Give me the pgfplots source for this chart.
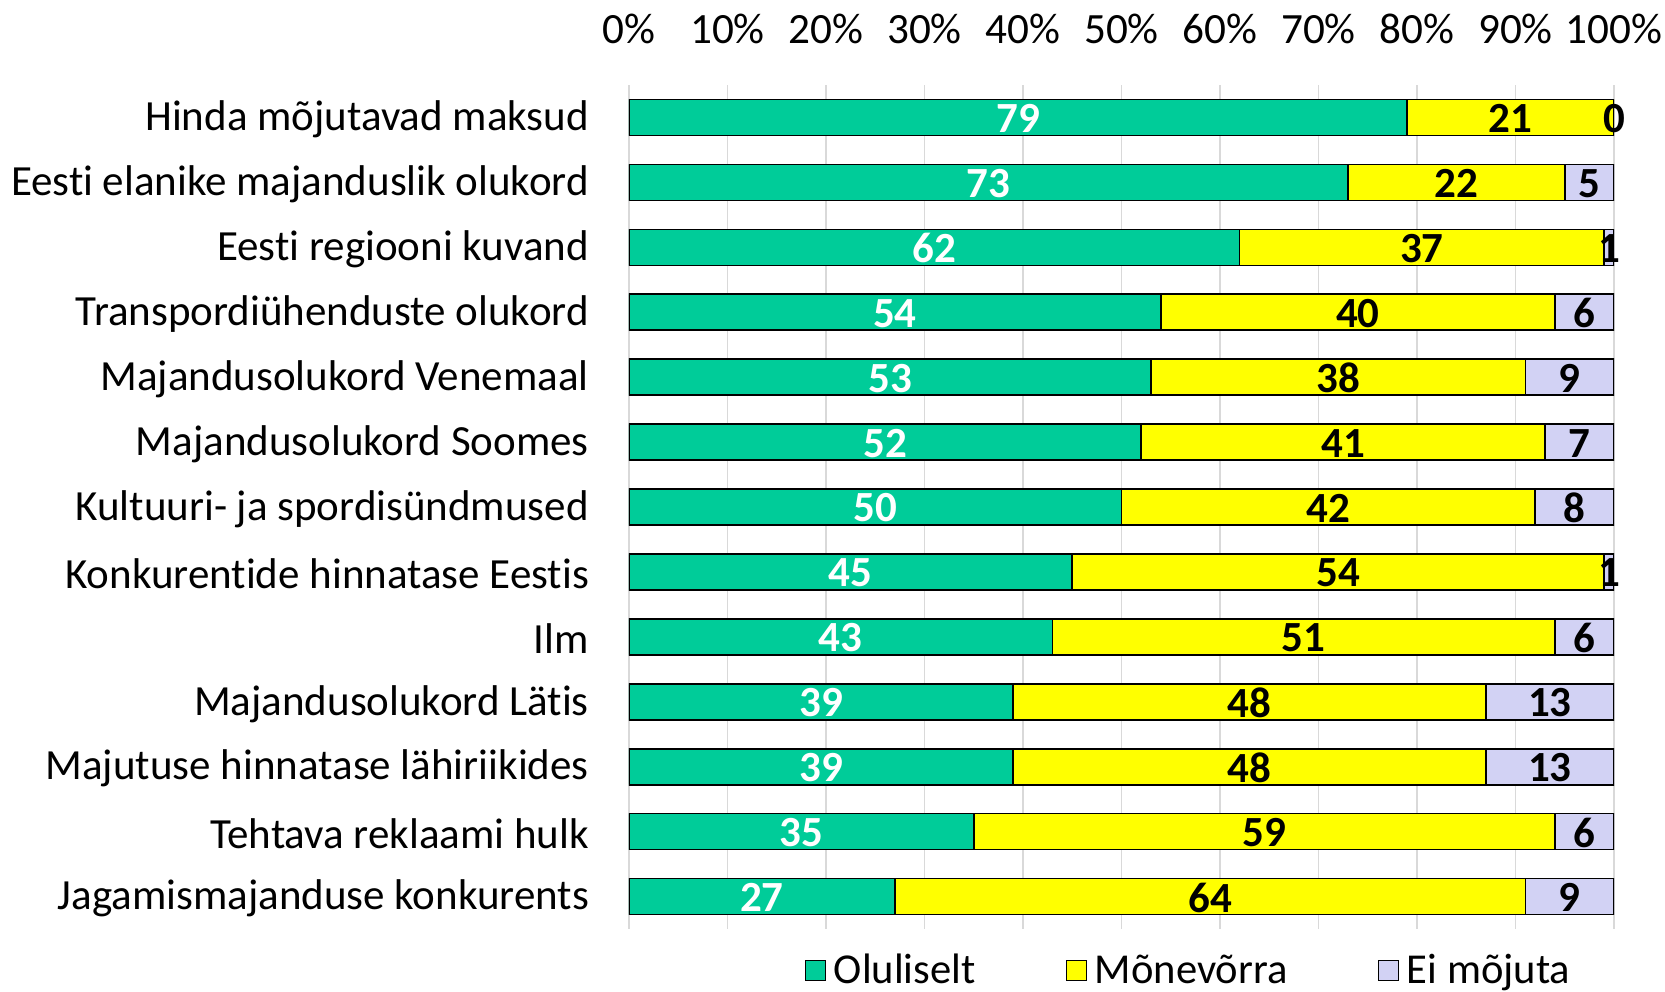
\documentclass[border=0pt]{standalone}
\usepackage{pgfplots}
\pgfplotsset{compat=1.18}
\usepackage{fontspec}
\setmainfont[RawFeature={-liga;-clig;-dlig;-calt}]{Carlito}
\definecolor{cgreen}{RGB}{0,204,153}
\definecolor{cyellow}{RGB}{255,255,0}
\definecolor{clav}{RGB}{210,210,244}
\definecolor{cgrid}{RGB}{217,217,217}
\pgfplotsset{
  common/.style={
    scale only axis, width=492.5pt, height=422pt,
    xmin=0, xmax=100, ymin=-0.5, ymax=12.5, y dir=reverse,
  }
}
\begin{document}
\begin{tikzpicture}
\begin{axis}[common, name=main,
  xbar stacked, bar width=18pt,
  axis line style={draw=none}, major tick length=0pt,
  xmajorgrids, grid style={cgrid, line width=0.8pt},
  xtick={0,10,...,100},
  xticklabels={0\%,10\%,20\%,30\%,40\%,50\%,60\%,70\%,80\%,90\%,100\%},
  xticklabel pos=top,
  x tick label style={font=\fontsize{21.6}{25}\selectfont, yshift=17pt},
  ytick={0,...,12},
  yticklabels={Hinda mõjutavad maksud, Eesti elanike majanduslik olukord, Eesti regiooni kuvand, Transpordiühenduste olukord, Majandusolukord Venemaal, Majandusolukord Soomes, Kultuuri- ja spordisündmused, Konkurentide hinnatase Eestis, Ilm, Majandusolukord Lätis, Majutuse hinnatase lähiriikides, Tehtava reklaami hulk, Jagamismajanduse konkurents},
  y tick label style={font=\fontsize{21.5}{25}\selectfont, xshift=-16.5pt, yshift=-1pt},
  legend image code/.code={\draw[#1,draw=black,line width=0.6pt] (0pt,-5pt) rectangle (10pt,5pt);},
  legend style={at={(0.569,-0.049)}, anchor=center, draw=none, fill=none,
    legend columns=3, font=\fontsize{21.3}{25}\selectfont,
    /tikz/every even column/.append style={column sep=43pt},
    /tikz/every odd column/.append style={column sep=2pt}},
]
\addplot[fill=cgreen, draw=black, line width=0.8pt] coordinates {
(79,0) (73,1) (62,2) (54,3) (53,4) (52,5) (50,6) (45,7) (43,8) (39,9) (39,10) (35,11) (27,12)};
\addplot[fill=cyellow, draw=black, line width=0.8pt] coordinates {
(21,0) (22,1) (37,2) (40,3) (38,4) (41,5) (42,6) (54,7) (51,8) (48,9) (48,10) (59,11) (64,12)};
\addplot[fill=clav, draw=black, line width=0.8pt] coordinates {
(0,0) (5,1) (1,2) (6,3) (9,4) (7,5) (8,6) (1,7) (6,8) (13,9) (13,10) (6,11) (9,12)};
\legend{Oluliselt, Mõnevõrra, Ei mõjuta}
\end{axis}
\begin{axis}[common, hide axis,
  nodes near coords, point meta=explicit symbolic, nodes near coords align=center,
  every node near coord/.append style={font=\bfseries\fontsize{21.5}{25}\selectfont, yshift=-0.5pt},
]
\addplot[draw=none, mark=none, every node near coord/.append style={text=white}] coordinates {
(39.5,0)[79] (36.5,1)[73] (31,2)[62] (27,3)[54] (26.5,4)[53] (26,5)[52] (25,6)[50] (22.5,7)[45] (21.5,8)[43] (19.5,9)[39] (19.5,10)[39] (17.5,11)[35] (13.5,12)[27]};
\addplot[draw=none, mark=none, every node near coord/.append style={text=black}] coordinates {
(89.5,0)[21] (84,1)[22] (80.5,2)[37] (74,3)[40] (72,4)[38] (72.5,5)[41] (71,6)[42] (72,7)[54] (68.5,8)[51] (63,9)[48] (63,10)[48] (64.5,11)[59] (59,12)[64]};
\addplot[draw=none, mark=none, every node near coord/.append style={text=black}] coordinates {
(100,0)[0] (97.5,1)[5] (99.5,2)[1] (97,3)[6] (95.5,4)[9] (96.5,5)[7] (96,6)[8] (99.5,7)[1] (97,8)[6] (93.5,9)[13] (93.5,10)[13] (97,11)[6] (95.5,12)[9]};
\end{axis}
\pgfresetboundingbox
\path ([xshift=-314.5pt,yshift=-31pt]main.south west) rectangle ([xshift=25.5pt,yshift=42.5pt]main.north east);
\end{tikzpicture}
\end{document}
